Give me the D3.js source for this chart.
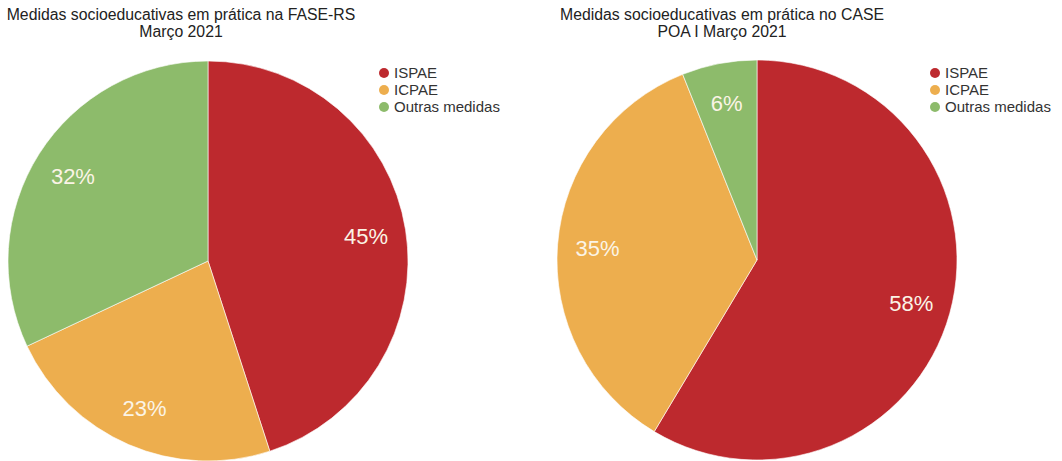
<!DOCTYPE html>
<html>
<head>
<meta charset="utf-8">
<script src="https://cdn.jsdelivr.net/npm/d3@7"></script>
<style>
  html, body { margin: 0; padding: 0; background: #fff; }
  svg { display: block; }
  text { font-family: "Liberation Sans", Arial, Helvetica, sans-serif; }
</style>
</head>
<body>
<svg id="chart" width="1062" height="461"></svg>
<script>
const categories = ["ISPAE", "ICPAE", "Outras medidas"];
const colors = ["#bd292e", "#edae4e", "#8dbb6b"];
const leftValues = [45, 23, 32];
const rightValues = [58, 35, 6];
const leftTitle = ["Medidas socioeducativas em prática na FASE-RS", "Março 2021"];
const rightTitle = ["Medidas socioeducativas em prática no CASE", "POA I Março 2021"];

const svg = d3.select("#chart");
const color = d3.scaleOrdinal().domain(categories).range(colors);

function drawPie(cx, cy, r, values, title, titleX, legendX) {
  const g = svg.append("g");
  const data = categories.map((c, i) => ({ cat: c, value: values[i] }));
  const pie = d3.pie().sort(null).value(d => d.value);
  const arc = d3.arc().innerRadius(0).outerRadius(r);
  const labelArc = d3.arc().innerRadius(r * 0.8).outerRadius(r * 0.8);
  const arcs = pie(data);
  const pg = g.append("g").attr("transform", `translate(${cx},${cy})`);
  pg.selectAll("path").data(arcs).join("path")
    .attr("d", arc)
    .attr("fill", d => color(d.data.cat))
    .attr("stroke", "#fff").attr("stroke-width", 0.6);
  pg.selectAll("text").data(arcs).join("text")
    .attr("transform", d => `translate(${labelArc.centroid(d)})`)
    .attr("text-anchor", "middle")
    .attr("dy", "0.38em")
    .attr("fill", "#fbf4e6")
    .attr("font-size", 22)
    .text(d => d.data.value + "%");

  g.selectAll("text.title").data(title).join("text")
    .attr("class", "title")
    .attr("x", titleX).attr("y", (d, i) => 20 + i * 17)
    .attr("text-anchor", "middle")
    .attr("fill", "#222").attr("font-size", 15.8)
    .text(d => d);

  const lg = g.append("g").attr("transform", `translate(${legendX},73)`);
  const items = lg.selectAll("g").data(categories).join("g")
    .attr("transform", (d, i) => `translate(0,${i * 17})`);
  items.append("circle").attr("r", 5).attr("fill", d => color(d));
  items.append("text").attr("x", 10).attr("dy", "0.35em")
    .attr("fill", "#333").attr("font-size", 15).text(d => d);
}

drawPie(208, 261, 200, leftValues, leftTitle, 181, 384);
drawPie(757, 260, 200, rightValues, rightTitle, 722, 935);
</script>
</body>
</html>
